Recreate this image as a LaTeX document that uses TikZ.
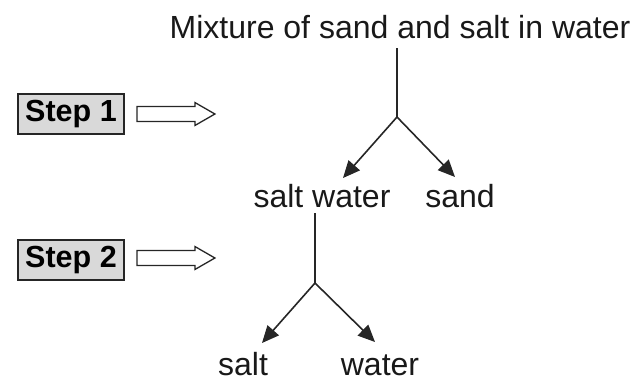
\documentclass[tikz,border=0pt]{standalone}
\usepackage{fontspec}
\setmainfont{Liberation Sans}
\usetikzlibrary{arrows.meta}

\begin{document}
\begin{tikzpicture}[x=1pt,y=-1pt,
  lbl/.style={anchor=base,inner sep=0pt,text=black!90,font=\fontsize{32}{38}\selectfont},
  stepbox/.style={draw=black!85,line width=1.8pt,fill=gray!30,minimum width=106pt,minimum height=40pt,inner sep=0pt,font=\bfseries\fontsize{30.5}{36}\selectfont},
  branch/.style={draw=black!85,line width=1.6pt,-{Triangle[length=17pt,width=15pt]}},
  stem/.style={draw=black!85,line width=1.6pt},
  hollow/.style={draw=black!85,line width=1.3pt,fill=white,line join=miter}]
\useasboundingbox (0,0) rectangle (637,383);
% labels
\node[lbl] (mix) at (400,38) {Mixture of sand and salt in water};
\node[lbl] (saltwater) at (322,207) {salt water};
\node[lbl] (sand) at (460,207) {sand};
\node[lbl] (salt) at (243,375) {salt};
\node[lbl] (water) at (380,375) {water};
% forks and arrow tips
\coordinate (top1) at (397,48);
\coordinate (fork1) at (397,117);
\coordinate (tipA) at (343,178);
\coordinate (tipB) at (455,177);
\coordinate (top2) at (315,213);
\coordinate (fork2) at (315,283);
\coordinate (tipC) at (262,343);
\coordinate (tipD) at (375,342);
\draw[stem] (top1) -- (fork1);
\draw[branch] (fork1) -- (tipA);
\draw[branch] (fork1) -- (tipB);
\draw[stem] (top2) -- (fork2);
\draw[branch] (fork2) -- (tipC);
\draw[branch] (fork2) -- (tipD);
% steps
\node[stepbox] (s1) at (71,114) {Step 1};
\node[stepbox] (s2) at (71,260) {Step 2};
\draw[hollow] ([xshift=12pt,yshift=7.5pt]s1.east) -- ++(58,0) -- ++(0,-4) -- ++(20,11.5)
  -- ++(-20,11.5) -- ++(0,-4) -- ++(-58,0) -- cycle;
\draw[hollow] ([xshift=12pt,yshift=9.5pt]s2.east) -- ++(58,0) -- ++(0,-4) -- ++(20,11.5)
  -- ++(-20,11.5) -- ++(0,-4) -- ++(-58,0) -- cycle;
\end{tikzpicture}
\end{document}
